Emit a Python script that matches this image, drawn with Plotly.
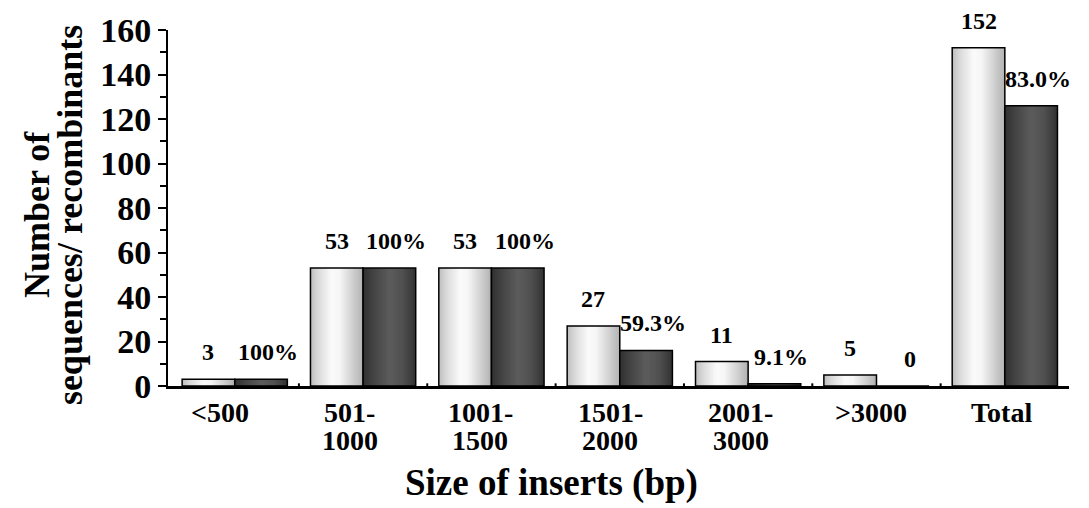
import plotly.graph_objects as go
import numpy as np

categories = ["<500", "501-<br>1000", "1001-<br>1500", "1501-<br>2000", "2001-<br>3000", ">3000", "Total"]
sequences = [3, 53, 53, 27, 11, 5, 152]
recombinants = [3, 53, 53, 16, 1, 0, 126]
seq_labels = ["3", "53", "53", "27", "11", "5", "152"]
rec_labels = ["100%", "100%", "100%", "59.3%", "9.1%", "0", "83.0%"]
y_title_lines = ["Number of", "sequences/ recombinants"]
x_title = "Size of inserts (bp)"

FONT = "Liberation Serif, Times New Roman, serif"
BW = 0.41
NS = 30

def profile(t, pts):
    xs = [p[0] for p in pts]
    ys = [p[1] for p in pts]
    v = int(round(np.interp(t, xs, ys)))
    return f"rgb({v},{v},{v})"

light_pts = [(0, 190), (0.15, 218), (0.4, 250), (0.55, 246), (0.8, 208), (1, 178)]
dark_pts = [(0, 48), (0.2, 68), (0.5, 92), (0.75, 80), (1, 50)]

x_idx = list(range(len(categories)))
fig = go.Figure()

for vals, start, pts in [(sequences, -BW, light_pts), (recombinants, 0.0, dark_pts)]:
    w = BW / NS
    for k in range(NS):
        t = (k + 0.5) / NS
        fig.add_trace(go.Bar(
            x=x_idx, y=vals, offset=start + k * w, width=w * (1.6 if k < NS - 1 else 1.0),
            marker=dict(color=profile(t, pts), line=dict(width=0)),
            showlegend=False, hoverinfo="skip"))
    fig.add_trace(go.Bar(
        x=x_idx, y=vals, offset=start, width=BW,
        marker=dict(color="rgba(0,0,0,0)", line=dict(color="black", width=1.5)),
        showlegend=False))

lab_font = dict(family=FONT, size=24, color="black")
annotations = []
for i in x_idx:
    annotations.append(dict(x=i - BW / 2, y=sequences[i], xref="x", yref="y",
                            text=f"<b>{seq_labels[i]}</b>", showarrow=False, yanchor="bottom",
                            yshift=12, font=lab_font))
    annotations.append(dict(x=i + BW / 2, y=recombinants[i], xref="x", yref="y",
                            text=f"<b>{rec_labels[i]}</b>", showarrow=False, yanchor="bottom",
                            yshift=12, xshift=7, font=lab_font))

# x category labels (two rows)
tick_font = dict(family=FONT, size=28, color="black")
for i, c in enumerate(categories):
    parts = c.split("<br>")
    for r, p in enumerate(parts):
        annotations.append(dict(x=i, y=0, xref="x", yref="paper", text=f"<b>{p}</b>",
                                showarrow=False, xanchor="center", yanchor="middle",
                                xshift=-15 + 1.9 * i,
                                yshift=-26 - 28 * r, font=tick_font))

# y title, two lines
for r, line in enumerate(y_title_lines):
    annotations.append(dict(x=0, y=0.48, xref="paper", yref="paper", xshift=-131 + 33 * r,
                            text=f"<b>{line}</b>", textangle=-90,
                            showarrow=False, xanchor="center", yanchor="middle",
                            font=dict(family=FONT, size=36, color="black")))
annotations.append(dict(x=0.426, y=0, xref="paper", yref="paper", yshift=-97,
                        text=f"<b>{x_title}</b>",
                        showarrow=False, xanchor="center", yanchor="middle",
                        font=dict(family=FONT, size=37, color="black")))

# page body has an 8px margin; compensate so the plot area lands where the reference has it
fig.update_layout(
    width=1089, height=508,
    margin=dict(l=160, r=28, t=21.5, b=129.5, autoexpand=False),
    paper_bgcolor="white", plot_bgcolor="white",
    barmode="overlay",
    font=dict(family=FONT, color="black"),
    annotations=annotations,
    xaxis=dict(
        type="linear", range=[-0.52, 6.5], automargin=False,
        showticklabels=False,
        showline=True, linecolor="black", linewidth=2.5,
        ticks="", showgrid=False, zeroline=False,
    ),
    yaxis=dict(
        range=[0, 160], tickvals=list(range(0, 161, 20)), automargin=False,
        ticktext=[f"<b>{v}</b>" for v in range(0, 161, 20)],
        tickfont=dict(family=FONT, size=34, color="black"),
        showline=True, linecolor="black", linewidth=2,
        ticks="outside", ticklen=8, tickwidth=2, tickcolor="black",
        minor=dict(tickvals=list(range(10, 160, 20)), ticks="outside", ticklen=6, tickwidth=2, tickcolor="black"),
        showgrid=False, zeroline=False,
    ),
)

# category boundary marks on the x axis
for b in [i + 0.5 for i in x_idx[:-1]]:
    fig.add_shape(type="line", x0=b, x1=b, y0=0, y1=1.2, xref="x", yref="y",
                  line=dict(color="black", width=2))

fig.write_html("out.html")
